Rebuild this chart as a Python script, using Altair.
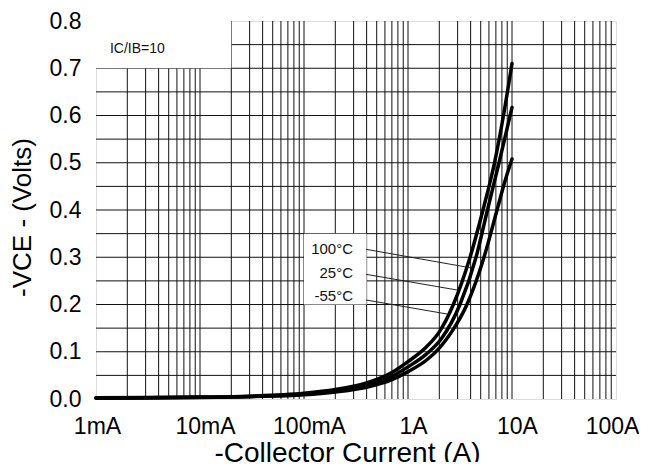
import altair as alt
import pandas as pd

# ---- data ----
# curve A (upper, 100°C), curve B (25°C), curve C (-55°C): collector current [A] vs -VCE [V]
a_current = [0.001, 0.003, 0.01, 0.03, 0.1, 0.2, 0.4, 0.7, 1.0, 1.5, 2.0, 2.73, 3.95, 5.26, 6.79, 8.28, 10.0]
a_vce     = [0.0025, 0.003, 0.004, 0.006, 0.012, 0.020, 0.034, 0.056, 0.079, 0.110, 0.142, 0.200, 0.300, 0.400, 0.500, 0.600, 0.710]

b_current = [0.001, 0.003, 0.01, 0.03, 0.1, 0.2, 0.4, 0.7, 1.0, 1.5, 2.1, 3.16, 4.51, 5.81, 7.50, 8.70, 10.0]
b_vce     = [0.002, 0.0025, 0.0035, 0.0055, 0.010, 0.017, 0.029, 0.048, 0.068, 0.095, 0.128, 0.200, 0.300, 0.400, 0.500, 0.560, 0.617]

c_current = [0.001, 0.003, 0.01, 0.03, 0.1, 0.2, 0.4, 0.7, 1.0, 1.5, 2.04, 2.59, 3.69, 5.38, 7.18, 8.40, 10.0]
c_vce     = [0.0015, 0.002, 0.003, 0.005, 0.009, 0.015, 0.025, 0.041, 0.058, 0.082, 0.110, 0.140, 0.200, 0.300, 0.400, 0.455, 0.508]

series_names = ["100°C", "25°C", "-55°C"]

x_tick_values = [0.001, 0.01, 0.1, 1, 10, 100]
x_tick_labels = ["1mA", "10mA", "100mA", "1A", "10A", "100A"]
y_tick_values = [0.0, 0.1, 0.2, 0.3, 0.4, 0.5, 0.6, 0.7, 0.8]

# grid lines (log minor grid, 0.05 V grid)
x_grid = [k * 10.0 ** n for n in range(-3, 2) for k in range(1, 10)][1:]
y_grid = [round(0.05 * i, 2) for i in range(1, 16)]

# white label boxes (hide the grid)
box_x = [0.001, 0.1]
box_x2 = [0.02, 0.4]
box_y = [0.7, 0.2]
box_y2 = [0.8, 0.35]

# temperature labels and their leader lines
temp_label_x = [0.296, 0.296, 0.296]
temp_label_y = [0.3175, 0.2667, 0.218]
leader_x = [0.3947, 0.3947, 0.3947]
leader_y = [0.3168, 0.2639, 0.2095]
leader_x2 = [3.946, 2.958, 2.371]
leader_y2 = [0.2779, 0.2307, 0.1799]

ratio_text = "IC/IB=10"
ratio_x = [0.00136]
ratio_y = [0.741]

FONT = "Liberation Sans"

# ---- build tables ----
rows = []
for name, cur, v in zip(series_names, [a_current, b_current, c_current], [a_vce, b_vce, c_vce]):
    for i, (ci, vi) in enumerate(zip(cur, v)):
        rows.append({"series": name, "I": ci, "V": vi, "o": i})
curves = pd.DataFrame(rows)

xgrid_df = pd.DataFrame({"x": x_grid})
ygrid_df = pd.DataFrame({"y": y_grid})
box_df = pd.DataFrame({"x": box_x, "x2": box_x2, "y": box_y, "y2": box_y2})
temp_df = pd.DataFrame({"x": temp_label_x, "y": temp_label_y, "t": series_names})
leader_df = pd.DataFrame({"x": leader_x, "y": leader_y, "x2": leader_x2, "y2": leader_y2})
ratio_df = pd.DataFrame({"x": ratio_x, "y": ratio_y, "t": [ratio_text]})

xs = alt.Scale(type="log", domain=[0.001, 100], nice=False)
ys = alt.Scale(domain=[0, 0.8], nice=False, zero=True)

label_expr = " : ".join(
    f"datum.value < {v * 5} ? '{l}'" for v, l in zip(x_tick_values[:-1], x_tick_labels[:-1])
) + f" : '{x_tick_labels[-1]}'"

x_axis = alt.Axis(
    values=x_tick_values, labelExpr=label_expr, grid=False, ticks=False, domain=False,
    labelFontSize=23, labelColor="black", labelFont=FONT, labelPadding=16,
    labelOffset={
        "condition": [
            {"test": "datum.value < 0.005", "value": 1},
            {"test": "datum.value > 50", "value": -4},
        ],
        "value": 5,
    },
    labelOverlap=False, labelFlush=False,
    title="-Collector Current (A)", titleFontSize=28, titleFontWeight="normal",
    titleColor="black", titleFont=FONT, titleX=251, titleY=62, titleAlign="center",
    titleBaseline="alphabetic",
)
y_axis = alt.Axis(
    values=y_tick_values, format=".1f", grid=False, ticks=False, domain=False,
    labelFontSize=23, labelColor="black", labelFont=FONT, labelPadding=15,
    title="-VCE - (Volts)", titleFontSize=26, titleFontWeight="normal",
    titleColor="black", titleFont=FONT, titleX=-66, titleY=196, titleAlign="center",
    titleBaseline="alphabetic", titleAngle=270,
)

vgrid = alt.Chart(xgrid_df).mark_rule(color="#111", strokeWidth=1).encode(
    x=alt.X("x:Q", scale=xs, axis=x_axis)
)
hgrid = alt.Chart(ygrid_df).mark_rule(color="#111", strokeWidth=1).encode(
    y=alt.Y("y:Q", scale=ys, axis=y_axis)
)
boxes = alt.Chart(box_df).mark_rect(color="white").encode(
    x=alt.X("x:Q", scale=xs), x2="x2:Q", y=alt.Y("y:Q", scale=ys), y2="y2:Q"
)
lines = alt.Chart(curves).mark_line(
    color="black", strokeWidth=3.5, interpolate="monotone", strokeCap="round"
).encode(
    x=alt.X("I:Q", scale=xs),
    y=alt.Y("V:Q", scale=ys),
    detail="series:N",
    order="o:Q",
)
leaders = alt.Chart(leader_df).mark_rule(color="#222", strokeWidth=1).encode(
    x=alt.X("x:Q", scale=xs), x2="x2:Q", y=alt.Y("y:Q", scale=ys), y2="y2:Q"
)
temps = alt.Chart(temp_df).mark_text(
    align="right", baseline="middle", fontSize=15, font=FONT, color="#111"
).encode(x=alt.X("x:Q", scale=xs), y=alt.Y("y:Q", scale=ys), text="t:N")
ratio = alt.Chart(ratio_df).mark_text(
    align="left", baseline="middle", fontSize=14, font=FONT, color="#111"
).encode(x=alt.X("x:Q", scale=xs), y=alt.Y("y:Q", scale=ys), text="t:N")

chart = alt.layer(vgrid, hgrid, boxes, lines, leaders, temps, ratio).properties(
    width=520, height=378,
    autosize=alt.AutoSizeParams(type="none"),
    padding={"left": 88, "top": 13, "right": 23, "bottom": 63},
).configure_view(stroke="black", strokeWidth=1.5).configure(background="white")

chart.save("out.html", embed_options={"renderer": "svg", "actions": False})
